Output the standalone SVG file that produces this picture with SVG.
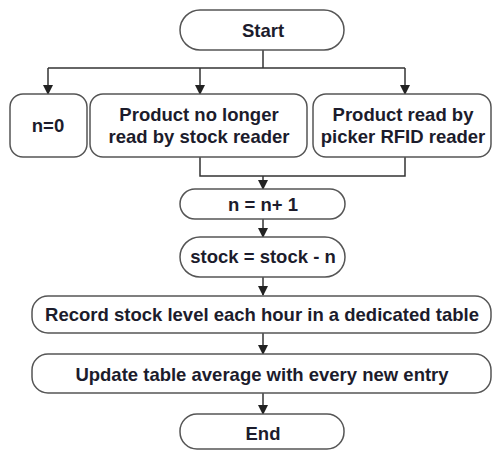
<svg xmlns="http://www.w3.org/2000/svg" width="493" height="450" viewBox="0 0 493 450">
  <style>
    .box { fill: #ffffff; stroke: #555555; stroke-width: 1.5; }
    .lbl { font-family: "Liberation Sans", Arial, sans-serif; font-weight: bold; font-size: 18.5px; fill: #1c1c2c; text-anchor: middle; }
    .wire { fill: none; stroke: #333333; stroke-width: 1.5; }
  </style>
  <defs>
    <marker id="arrow" markerWidth="10" markerHeight="10" refX="9" refY="5" orient="auto" markerUnits="userSpaceOnUse">
      <path d="M0,0 L10,5 L0,10 Z" fill="#222222"/>
    </marker>
  </defs>
  <rect width="493" height="450" fill="#ffffff"/>

  <g id="connectors">
    <path class="wire" d="M263,50 V68"/>
    <path class="wire" d="M48,68 H405"/>
    <path class="wire" d="M48,68 V94" marker-end="url(#arrow)"/>
    <path class="wire" d="M200,68 V94" marker-end="url(#arrow)"/>
    <path class="wire" d="M405,68 V94" marker-end="url(#arrow)"/>
    <path class="wire" d="M200,157 V176 H405 V157"/>
    <path class="wire" d="M263,176 V189" marker-end="url(#arrow)"/>
    <path class="wire" d="M263,219 V237" marker-end="url(#arrow)"/>
    <path class="wire" d="M263,277 V295" marker-end="url(#arrow)"/>
    <path class="wire" d="M263,333 V354" marker-end="url(#arrow)"/>
    <path class="wire" d="M263,393 V414" marker-end="url(#arrow)"/>
  </g>

  <g id="start">
    <rect class="box" x="180" y="10" width="164" height="40" rx="20" ry="20"/>
    <text class="lbl" x="263" y="37">Start</text>
  </g>

  <g id="n-zero">
    <rect class="box" x="10" y="94" width="77" height="63" rx="13" ry="13"/>
    <text class="lbl" x="48" y="132">n=0</text>
  </g>

  <g id="not-read">
    <rect class="box" x="90" y="94" width="217" height="63" rx="13" ry="13"/>
    <text class="lbl" x="199" y="121">Product no longer</text>
    <text class="lbl" x="199" y="143">read by stock reader</text>
  </g>

  <g id="picker-read">
    <rect class="box" x="313" y="94" width="178" height="63" rx="13" ry="13"/>
    <text class="lbl" x="403" y="121">Product read by</text>
    <text class="lbl" x="403" y="143">picker RFID reader</text>
  </g>

  <g id="increment">
    <rect class="box" x="180" y="189" width="165" height="30" rx="15" ry="15"/>
    <text class="lbl" x="263" y="211">n = n+ 1</text>
  </g>

  <g id="stock-update">
    <rect class="box" x="180" y="237" width="165" height="40" rx="20" ry="20"/>
    <text class="lbl" x="263" y="263">stock = stock - n</text>
  </g>

  <g id="record">
    <rect class="box" x="32" y="296" width="459" height="37" rx="16" ry="16"/>
    <text class="lbl" x="262" y="321">Record stock level each hour in a dedicated table</text>
  </g>

  <g id="average">
    <rect class="box" x="32" y="354" width="459" height="39" rx="16" ry="16"/>
    <text class="lbl" x="262" y="381">Update table average with every new entry</text>
  </g>

  <g id="end">
    <rect class="box" x="180" y="414" width="164" height="35" rx="17" ry="17"/>
    <text class="lbl" x="263" y="440">End</text>
  </g>
</svg>
